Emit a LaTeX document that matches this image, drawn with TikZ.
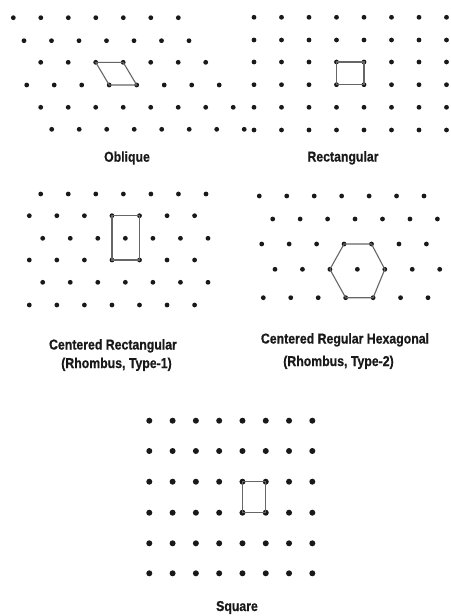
\documentclass[tikz,border=0pt]{standalone}
\usepackage{fontspec}
\newfontfamily\labfont[FakeStretch=0.86,FakeBold=0.6]{Liberation Sans}
\begin{document}
\begin{tikzpicture}[x=1pt,y=-1pt,
  dot/.style={circle,fill=black!90,draw=none,inner sep=0pt,minimum size=4.8pt},
  bigdot/.style={circle,fill=black!90,draw=none,inner sep=0pt,minimum size=6pt},
  cell/.style={draw=black!60,line width=1.1pt},
  lab/.style={font=\labfont\bfseries\fontsize{14.3}{16}\selectfont,anchor=base,inner sep=0pt,text=black!90}]
\useasboundingbox[fill=white] (0,0) rectangle (450,616);
% ---------- Oblique ----------
\foreach \r/\y/\xs/\n in {1/17.7/13.3/7,2/40.7/24/7,3/62.3/40.7/7,4/85/26.7/8,5/107.3/40.7/8,6/129.3/51.7/8}{
  \foreach \c in {1,...,\n}{
    \node[dot] (o-\r-\c) at ({\xs+27.5*(\c-1)},\y) {};
  }
}
\draw[cell] (o-3-3.center) -- (o-3-4.center) -- (o-4-5.center) -- (o-4-4.center) -- cycle;
\node[lab] (lo) at (127,161.7) {Oblique};
% ---------- Rectangular ----------
\foreach \r/\y in {1/17.3,2/40,3/62,4/84.7,5/107.3,6/130}{
  \foreach \c in {1,...,8}{
    \node[dot] (r-\r-\c) at ({254+27.5*(\c-1)},\y) {};
  }
}
\draw[cell] (r-3-4.center) -- (r-3-5.center) -- (r-4-5.center) -- (r-4-4.center) -- cycle;
\node[lab] (lr) at (343,161.5) {Rectangular};
% ---------- Centered Rectangular ----------
\foreach \r/\y/\xs in {1/194/40.7,2/215.7/29.3,3/238.3/42.7,4/260/29.3,5/282.3/42.7,6/305/29.3}{
  \foreach \c in {1,...,7}{
    \node[dot] (c-\r-\c) at ({\xs+27.55*(\c-1)},\y) {};
  }
}
\draw[cell] (c-2-4.center) -- (c-2-5.center) -- (c-4-5.center) -- (c-4-4.center) -- cycle;
\node[lab] (lc1) at (113,349.5) {Centered Rectangular};
\node[lab] (lc2) at (116.5,368) {(Rhombus, Type-1)};
% ---------- Centered Regular Hexagonal ----------
\foreach \r/\y/\xs in {1/196/259.3,2/219/272.7,3/244/261.7,4/269.3/275,5/297.7/263.3}{
  \foreach \c in {1,...,7}{
    \node[dot] (h-\r-\c) at ({\xs+27.45*(\c-1)},\y) {};
  }
}
\draw[cell] (h-3-4.center) -- (h-3-5.center) -- (h-4-5.center) -- (h-5-5.center) -- (h-5-4.center) -- (h-4-3.center) -- cycle;
\node[lab] (lh1) at (345,343.5) {Centered Regular Hexagonal};
\node[lab] (lh2) at (338.5,366) {(Rhombus, Type-2)};
% ---------- Square ----------
\foreach \r/\y in {1/420.7,2/451,3/481.7,4/512.7,5/543.3,6/573.3}{
  \foreach \c in {1,...,8}{
    \node[bigdot] (s-\r-\c) at ({149.3+23.29*(\c-1)},\y) {};
  }
}
\draw[cell] (s-3-5.center) -- (s-3-6.center) -- (s-4-6.center) -- (s-4-5.center) -- cycle;
\node[lab] (ls) at (237,611) {Square};
\end{tikzpicture}
\end{document}
